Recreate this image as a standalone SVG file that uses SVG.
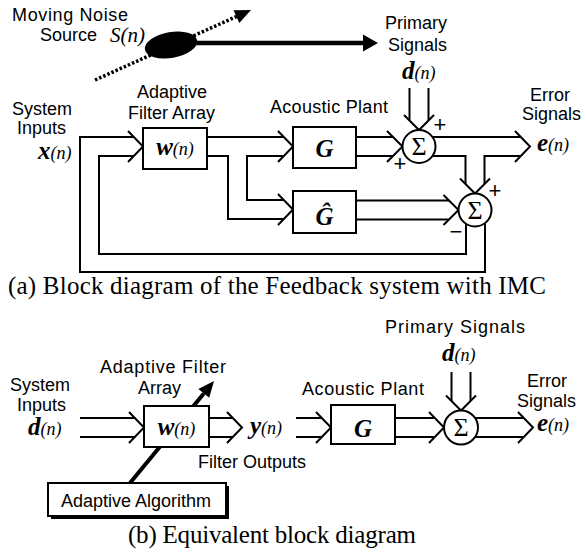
<svg xmlns="http://www.w3.org/2000/svg" width="586" height="553" viewBox="0 0 586 553">
<style>
.s{font-family:"Liberation Sans",Arial,sans-serif;font-size:18px;fill:#000}
.m{font-family:"Liberation Serif","Times New Roman",serif;font-style:italic;font-weight:bold;font-size:25px;fill:#000}
.n{font-weight:normal;font-size:18px}
.ln{fill:none;stroke:#000;stroke-width:2;stroke-linejoin:miter}
.box{fill:#fff;stroke:#000;stroke-width:2}
.sig{font-family:"Liberation Serif","Times New Roman",serif;font-size:26px;fill:#000}
.pm{font-family:"Liberation Sans",Arial,sans-serif;font-size:22px;fill:#000;text-anchor:middle}
.cap{font-family:"Liberation Serif","Times New Roman",serif;font-size:25px;fill:#000}
</style>

<g id="connectors">
  <!-- (a) noise source -->
  <path d="M95 80 L237 16.3" fill="none" stroke="#000" stroke-width="3.5" stroke-dasharray="2.5 2"/>
  <polygon points="251,10 239.3,23 233.5,10.2" fill="#000"/>
  <path d="M196 43 H366" fill="none" stroke="#000" stroke-width="4.5"/>
  <polygon points="378,43 363,34.5 363,51.5" fill="#000"/>
  <!-- feedback loops -->
  <path class="ln" d="M133.5 137 H80 V272 H485 V223"/>
  <path class="ln" d="M133.5 156 H99 V254 H466 V224"/>
  <path class="ln" d="M128 131 L143 146.5 L128 162"/>
  <!-- w outputs -->
  <path class="ln" d="M207 137 H283.5"/>
  <path class="ln" d="M207 156 H228 V219 H283.5"/>
  <path class="ln" d="M283.5 156 H247 V200 H283.5"/>
  <path class="ln" d="M278 131 L293 146.5 L278 162"/>
  <path class="ln" d="M278 194 L293 209.5 L278 225"/>
  <!-- G to sigma1 -->
  <path class="ln" d="M356 137 H393"/>
  <path class="ln" d="M356 156 H393"/>
  <path class="ln" d="M387 131 L402.5 146.5 L387 162"/>
  <!-- d(n) to sigma1 -->
  <path class="ln" d="M409.5 88 V120.5"/>
  <path class="ln" d="M428.5 88 V120.5"/>
  <path class="ln" d="M404 115 L419 130 L434 115"/>
  <!-- sigma1 outputs -->
  <path class="ln" d="M432.5 137 H520.5"/>
  <path class="ln" d="M432.5 156 H465.5 V184"/>
  <path class="ln" d="M520.5 156 H484.5 V184"/>
  <path class="ln" d="M515 131 L530 146.5 L515 162"/>
  <path class="ln" d="M460 178.5 L475 193.5 L490 178.5"/>
  <!-- Ghat to sigma2 -->
  <path class="ln" d="M356 200.5 H449"/>
  <path class="ln" d="M356 219.5 H449"/>
  <path class="ln" d="M443.5 195 L458.5 210 L443.5 225"/>

  <!-- (b) -->
  <path class="ln" d="M80 418 H134.5"/>
  <path class="ln" d="M80 437 H134.5"/>
  <path class="ln" d="M129 412 L144 427.5 L129 443"/>
  <path class="ln" d="M209 418 H232.5"/>
  <path class="ln" d="M209 437 H232.5"/>
  <path class="ln" d="M227 412 L242 427.5 L227 443"/>
  <path class="ln" d="M296 418 H321.5"/>
  <path class="ln" d="M296 437 H321.5"/>
  <path class="ln" d="M316 412 L331 427.5 L316 443"/>
  <path class="ln" d="M395 418 H434.5"/>
  <path class="ln" d="M395 437 H434.5"/>
  <path class="ln" d="M429 412 L444 427.5 L429 443"/>
  <path class="ln" d="M451.5 372 V401"/>
  <path class="ln" d="M470.5 372 V401"/>
  <path class="ln" d="M446 395.5 L461 410.5 L476 395.5"/>
  <path class="ln" d="M475 418 H523.5"/>
  <path class="ln" d="M475 437 H523.5"/>
  <path class="ln" d="M518 412 L533 427.5 L518 443"/>
  <path d="M130 483 L203.8 393.4" fill="none" stroke="#000" stroke-width="4"/>
  <polygon points="214,381 209.2,397.8 198.4,388.9" fill="#000"/>
</g>

<g id="noise-source">
  <ellipse cx="171" cy="45" rx="26.5" ry="13" transform="rotate(-10 171 45)" fill="#000"/>
  <text class="s" x="12" y="21" textLength="116">Moving Noise</text>
  <text class="s" x="40" y="41">Source</text>
  <text x="110" y="42" font-family="Liberation Serif, serif" font-style="italic" font-size="21">S(n)</text>
</g>

<g id="primary-a">
  <text class="s" x="385" y="29">Primary</text>
  <text class="s" x="388" y="51">Signals</text>
  <text class="m" x="402" y="79">d<tspan class="n">(n)</tspan></text>
</g>

<g id="inputs-a">
  <text class="s" x="12" y="115">System</text>
  <text class="s" x="17" y="134">Inputs</text>
  <text class="m" x="38" y="159" font-size="24">x<tspan class="n">(n)</tspan></text>
</g>

<g id="filter-a">
  <text class="s" x="137" y="98">Adaptive</text>
  <text class="s" x="128" y="119">Filter Array</text>
  <rect class="box" x="143" y="128" width="64" height="41"/>
  <text class="m" x="175" y="155" text-anchor="middle">w<tspan class="n">(n)</tspan></text>
</g>

<g id="plant-a">
  <text class="s" x="270" y="113" textLength="118">Acoustic Plant</text>
  <rect class="box" x="293" y="127" width="63" height="41"/>
  <text class="m" x="324.5" y="157" text-anchor="middle" font-size="27">G</text>
</g>

<g id="model-a">
  <rect class="box" x="293" y="191" width="63" height="42"/>
  <text class="m" x="324.5" y="225" text-anchor="middle" font-size="27">Ĝ</text>
</g>

<g id="sum1-a">
  <circle class="box" cx="419" cy="146.5" r="16.5"/>
  <text class="sig" x="419" y="155" text-anchor="middle">Σ</text>
  <text class="pm" x="440" y="132">+</text>
  <text class="pm" x="400" y="171">+</text>
</g>

<g id="sum2-a">
  <circle class="box" cx="475" cy="210" r="16.5"/>
  <text class="sig" x="475" y="218.5" text-anchor="middle">Σ</text>
  <text class="pm" x="495" y="198">+</text>
  <text class="pm" x="456" y="239">−</text>
</g>

<g id="error-a">
  <text class="s" x="530" y="101">Error</text>
  <text class="s" x="522" y="120">Signals</text>
  <text class="m" x="537" y="151">e<tspan class="n">(n)</tspan></text>
</g>

<text class="cap" x="8" y="294" textLength="538">(a) Block diagram of the Feedback system with IMC</text>

<g id="inputs-b">
  <text class="s" x="10" y="391">System</text>
  <text class="s" x="17" y="411">Inputs</text>
  <text class="m" x="28" y="435">d<tspan class="n">(n)</tspan></text>
</g>

<g id="filter-b">
  <text class="s" x="100" y="373" textLength="126">Adaptive Filter</text>
  <text class="s" x="138" y="394">Array</text>
  <rect class="box" x="144" y="406" width="65" height="41"/>
  <text class="m" x="176.5" y="435" text-anchor="middle">w<tspan class="n">(n)</tspan></text>
</g>

<g id="outputs-b">
  <text class="m" x="250" y="434">y<tspan class="n">(n)</tspan></text>
  <text class="s" x="198" y="468">Filter Outputs</text>
</g>

<g id="algorithm-b">
  <rect x="51" y="486" width="178" height="33" fill="#000"/>
  <rect class="box" x="48" y="483" width="178" height="33"/>
  <text class="s" x="61" y="507">Adaptive Algorithm</text>
</g>

<g id="plant-b">
  <text class="s" x="302" y="395" textLength="122">Acoustic Plant</text>
  <rect class="box" x="331" y="405" width="64" height="39"/>
  <text class="m" x="363" y="437" text-anchor="middle" font-size="27">G</text>
</g>

<g id="primary-b">
  <text class="s" x="385" y="333" textLength="140">Primary Signals</text>
  <text class="m" x="442" y="361">d<tspan class="n">(n)</tspan></text>
</g>

<g id="sum-b">
  <circle class="box" cx="461" cy="427.5" r="17"/>
  <text class="sig" x="461" y="436" text-anchor="middle">Σ</text>
</g>

<g id="error-b">
  <text class="s" x="527" y="387">Error</text>
  <text class="s" x="517" y="407">Signals</text>
  <text class="m" x="537" y="431">e<tspan class="n">(n)</tspan></text>
</g>

<text class="cap" x="128" y="543" textLength="288">(b) Equivalent block diagram</text>
</svg>
